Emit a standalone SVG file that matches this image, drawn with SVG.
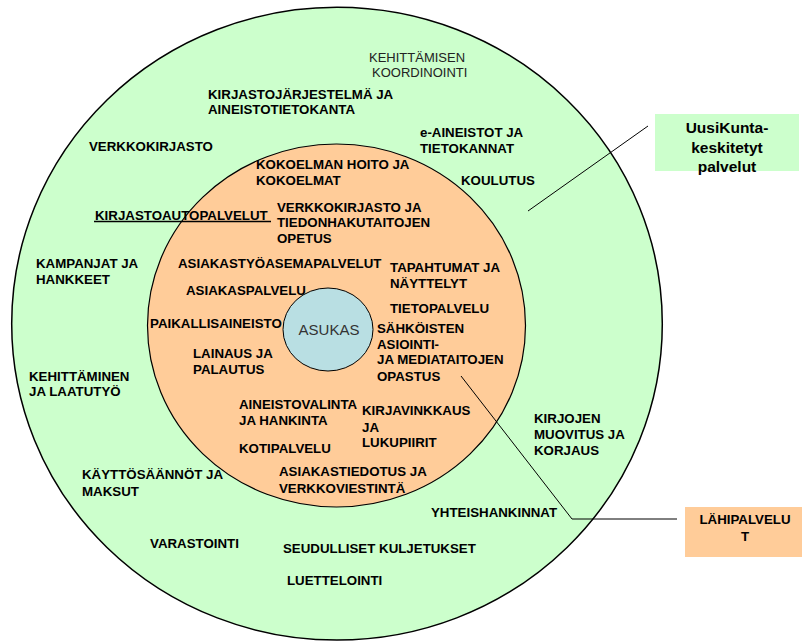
<svg xmlns="http://www.w3.org/2000/svg" width="802" height="641" viewBox="0 0 802 641">
<style>
.t{font-family:"Liberation Sans",Arial,sans-serif;font-size:13.3px;font-weight:bold;fill:#000}
.r{font-family:"Liberation Sans",Arial,sans-serif;font-size:13px;fill:#222}
.ln{stroke:#000;stroke-width:1;fill:none}
</style>
<rect width="802" height="641" fill="#fff"/>
<g id="outer">
<ellipse cx="337" cy="323.7" rx="325.3" ry="316.4" fill="#ccffcc" stroke="#000" stroke-width="1.5"/>
</g>
<g id="inner">
<ellipse cx="336.5" cy="325.5" rx="189" ry="181.5" fill="#ffcc99" stroke="#000" stroke-width="1.2"/>
</g>
<g id="asukas">
<ellipse cx="328" cy="329.5" rx="45" ry="41.5" fill="#b9dfe3" stroke="#000" stroke-width="1"/>
<text x="329" y="335" text-anchor="middle" style="font-family:'Liberation Sans',Arial,sans-serif;font-size:15px;fill:#333">ASUKAS</text>
</g>
<g id="connectors">
<line class="ln" x1="648" y1="126" x2="528" y2="211"/>
<polyline class="ln" points="461,376 572,519 677,519" stroke="#333"/>
<line x1="94" y1="221.5" x2="271" y2="221.5" stroke="#000" stroke-width="1.6"/>
</g>
<g id="box-uusikunta">
<rect x="655" y="114" width="144" height="57" fill="#ccffcc"/>
<text x="727" y="133" text-anchor="middle" class="t" style="font-size:15.5px">UusiKunta-</text>
<text x="727" y="153" text-anchor="middle" class="t" style="font-size:15.5px">keskitetyt</text>
<text x="727" y="172" text-anchor="middle" class="t" style="font-size:15.5px">palvelut</text>
</g>
<g id="box-lahipalvelut">
<rect x="685" y="507" width="117" height="50" fill="#ffcc99"/>
<text x="745" y="524" text-anchor="middle" class="t">LÄHIPALVELU</text>
<text x="745" y="541" text-anchor="middle" class="t">T</text>
</g>
<g id="outer-labels">
<text class="r" x="369" y="62">KEHITTÄMISEN</text>
<text class="r" x="372" y="77">KOORDINOINTI</text>
<text class="t" x="208" y="99">KIRJASTOJÄRJESTELMÄ JA</text>
<text class="t" x="208" y="114">AINEISTOTIETOKANTA</text>
<text class="t" x="89" y="151">VERKKOKIRJASTO</text>
<text class="t" x="420" y="137">e-AINEISTOT JA</text>
<text class="t" x="420" y="153">TIETOKANNAT</text>
<text class="t" x="461" y="185">KOULUTUS</text>
<text class="t" x="95" y="220">KIRJASTOAUTOPALVELUT</text>
<text class="t" x="36" y="268">KAMPANJAT JA</text>
<text class="t" x="36" y="284">HANKKEET</text>
<text class="t" x="29" y="381">KEHITTÄMINEN</text>
<text class="t" x="29" y="396">JA LAATUTYÖ</text>
<text class="t" x="534" y="423">KIRJOJEN</text>
<text class="t" x="534" y="439">MUOVITUS JA</text>
<text class="t" x="534" y="455">KORJAUS</text>
<text class="t" x="82" y="479">KÄYTTÖSÄÄNNÖT JA</text>
<text class="t" x="82" y="496">MAKSUT</text>
<text class="t" x="431" y="517">YHTEISHANKINNAT</text>
<text class="t" x="150" y="548">VARASTOINTI</text>
<text class="t" x="283" y="553">SEUDULLISET KULJETUKSET</text>
<text class="t" x="287" y="585">LUETTELOINTI</text>
</g>
<g id="inner-labels">
<text class="t" x="256" y="169">KOKOELMAN HOITO JA</text>
<text class="t" x="256" y="185">KOKOELMAT</text>
<text class="t" x="277" y="212">VERKKOKIRJASTO JA</text>
<text class="t" x="277" y="227">TIEDONHAKUTAITOJEN</text>
<text class="t" x="277" y="243">OPETUS</text>
<text class="t" x="178" y="268">ASIAKASTYÖASEMAPALVELUT</text>
<text class="t" x="390" y="272">TAPAHTUMAT JA</text>
<text class="t" x="390" y="288">NÄYTTELYT</text>
<text class="t" x="186" y="295">ASIAKASPALVELU</text>
<text class="t" x="390" y="313">TIETOPALVELU</text>
<text class="t" x="150" y="328">PAIKALLISAINEISTO</text>
<text class="t" x="377" y="333">SÄHKÖISTEN</text>
<text class="t" x="377" y="349">ASIOINTI-</text>
<text class="t" x="377" y="364">JA MEDIATAITOJEN</text>
<text class="t" x="377" y="381">OPASTUS</text>
<text class="t" x="193" y="358">LAINAUS JA</text>
<text class="t" x="193" y="374">PALAUTUS</text>
<text class="t" x="239" y="409">AINEISTOVALINTA</text>
<text class="t" x="239" y="425">JA HANKINTA</text>
<text class="t" x="362" y="415">KIRJAVINKKAUS</text>
<text class="t" x="362" y="432">JA</text>
<text class="t" x="362" y="447">LUKUPIIRIT</text>
<text class="t" x="239" y="453">KOTIPALVELU</text>
<text class="t" x="279" y="476">ASIAKASTIEDOTUS JA</text>
<text class="t" x="279" y="493">VERKKOVIESTINTÄ</text>
</g>
</svg>
